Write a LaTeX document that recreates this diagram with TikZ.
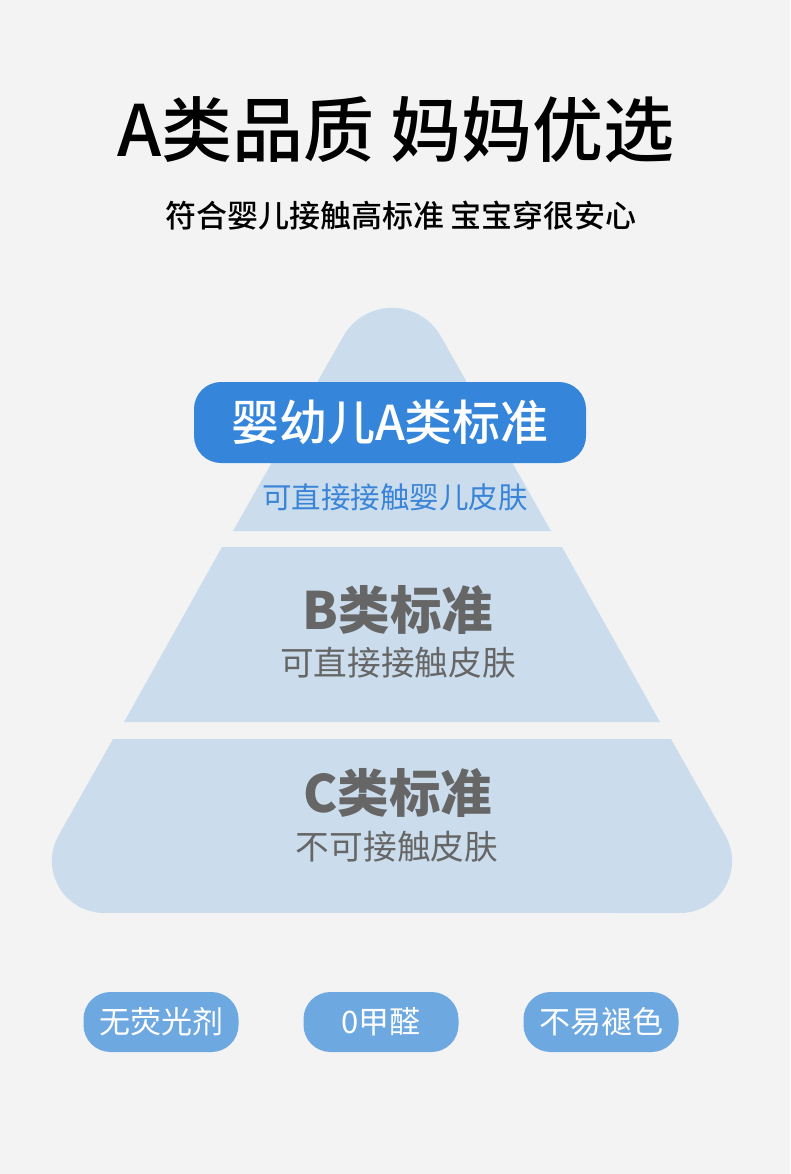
\documentclass[tikz,border=0pt]{standalone}
\usepackage{fontspec}
\setmainfont{Noto Sans CJK SC}
\newfontfamily\medfont{Noto Sans CJK SC Medium}
\usetikzlibrary{positioning}
\definecolor{bgc}{HTML}{F3F3F3}
\definecolor{tierc}{HTML}{CBDDED}
\definecolor{bannerc}{HTML}{3586DA}
\definecolor{subc}{HTML}{3A84D8}
\definecolor{pillc}{HTML}{6EA8E1}
\definecolor{greyc}{HTML}{666666}
\newcommand{\fsz}[1]{\fontsize{#1}{#1}\selectfont}

\begin{document}
\begin{tikzpicture}[x=1pt, y=-1pt, every node/.style={inner sep=0pt},
      tier/.style={fill=tierc, draw=none},
      lvl/.style={font=\fsz{51.5}\bfseries, text=greyc},
      note/.style={font=\fsz{33.7}, text=greyc},
      pill/.style={fill=pillc, text=white, rounded corners=27, minimum width=155pt,
                   minimum height=60pt, font=\fsz{31}}]
    \fill[bgc] (0,0) rectangle (790,1174);
    \useasboundingbox (0,0) rectangle (790,1174);
    % heading
    \node[font=\fsz{71}\medfont] (title) at (396,130) {A类品质 妈妈优选};
    \node[font=\fsz{31}\medfont] (sub) at (401,216) {符合婴儿接触高标准 宝宝穿很安心};
    % pyramid
    \path[tier] (233,531) -- (343.3,336.2) arc[start angle=209.5, end angle=330.5, radius=56]
      -- (551,531) -- cycle;
    \path[tier] (222,547) -- (562,547) -- (660,722) -- (124,722) -- cycle;
    \path[tier] (113,739) -- (58.6,835.3) arc[start angle=209.5, end angle=90, radius=52]
      -- (680.1,913) arc[start angle=90, end angle=-29.5, radius=52] -- (671,739) -- cycle;
    % levels
    \node[fill=bannerc, rounded corners=27, minimum width=392pt, minimum height=81pt,
          text=white, font=\fsz{48}\medfont] (lvla) at (390,422.5) {婴幼儿A类标准};
    \node[font=\fsz{29.5}, text=subc] (notea) at (395,497) {可直接接触婴儿皮肤};
    \node[lvl] (lvlb) at (398,610) {B类标准};
    \node[note] (noteb) at (398,663) {可直接接触皮肤};
    \node[lvl] (lvlc) at (398,793) {C类标准};
    \node[note] (notec) at (397,847) {不可接触皮肤};
    % tags
    \node[pill] (tag1) at (161,1022) {无荧光剂};
    \node[pill] (tag2) at (381,1022) {0甲醛};
    \node[pill] (tag3) at (601,1022) {不易褪色};
\end{tikzpicture}
\end{document}
